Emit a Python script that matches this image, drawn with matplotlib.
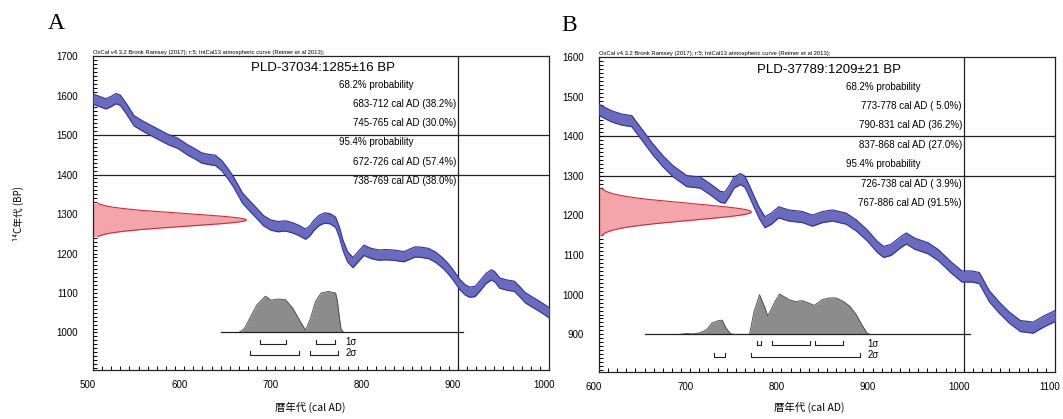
import numpy as np
import matplotlib
matplotlib.use('Agg')
import matplotlib.pyplot as plt
import matplotlib.transforms as mtransforms
from matplotlib.ticker import MultipleLocator

plt.rcParams['font.family'] = ['Liberation Sans', 'Noto Sans CJK JP', 'DejaVu Sans']

# ---------------- data ----------------
subtitle = "OxCal v4.3.2 Bronk Ramsey (2017); r:5; IntCal13 atmospheric curve (Reimer et al 2013);"

# Panel A: IntCal13 curve (centre, BP)
a_cal_years = [500, 507, 514, 520, 525, 530, 537, 545, 555, 564, 573, 582, 593, 604, 612, 619, 627, 634,
               641, 647, 653, 658, 664, 672, 679, 687, 695, 703, 711, 719, 726, 733, 738, 742, 748,
               754, 760, 766, 770, 774, 779, 785, 790, 797, 805, 813, 821, 829, 835, 841, 847, 853,
               860, 868, 876, 884, 890, 896, 902, 908, 913, 919, 925, 931, 937, 941, 946, 954, 962,
               968, 974, 981, 989, 995, 1000]
a_cal_bp = [1591, 1585, 1579, 1585, 1592, 1588, 1565, 1536, 1522, 1511, 1500, 1489, 1479, 1462, 1452,
            1442, 1438, 1436, 1423, 1405, 1385, 1365, 1340, 1320, 1303, 1283, 1272, 1268, 1270, 1265,
            1258, 1249, 1258, 1271, 1284, 1290, 1288, 1279, 1255, 1221, 1192, 1177, 1190, 1208, 1200,
            1196, 1197, 1196, 1194, 1192, 1198, 1204, 1203, 1200, 1190, 1175, 1160, 1142, 1122, 1108,
            1102, 1104, 1120, 1137, 1146, 1140, 1125, 1120, 1117, 1103, 1088, 1078, 1067, 1058, 1050]
a_cal_err = 13

a_date = (1285, 16)
a_name = "PLD-37034:1285±16 BP"
a_prob_years = [660, 666, 672, 680, 689, 695, 703, 711, 719, 727, 733, 738, 744, 750, 758, 766, 768, 770, 772, 775]
a_prob = [0, 10, 37, 71, 92, 82, 85, 83, 62, 29, 6, 33, 79, 100, 104, 100, 80, 40, 8, 0]
a_1sigma = [(683, 712), (745, 765)]
a_2sigma = [(672, 726), (738, 769)]
a_lines = ["68.2% probability", "683-712 cal AD (38.2%)", "745-765 cal AD (30.0%)",
           "95.4% probability", "672-726 cal AD (57.4%)", "738-769 cal AD (38.0%)"]
a_xticks = [500, 600, 700, 800, 900, 1000]
a_yticks = [1000, 1100, 1200, 1300, 1400, 1500, 1600, 1700]

# Panel B
b_cal_years = [600, 607, 614, 625, 636, 647, 659, 670, 681, 696, 711, 722, 733, 738, 743, 748, 755, 760,
               764, 770, 776, 782, 789, 797, 808, 823, 834, 845, 856, 871, 882, 894, 905, 912, 920, 931,
               937, 946, 961, 972, 987, 998, 1009, 1017, 1028, 1039, 1050, 1062, 1076, 1088, 1100]
b_cal_bp = [1467, 1458, 1450, 1442, 1438, 1404, 1367, 1337, 1312, 1287, 1283, 1266, 1247, 1245, 1262,
            1283, 1292, 1285, 1266, 1235, 1205, 1183, 1192, 1208, 1200, 1196, 1187, 1196, 1200, 1192,
            1175, 1150, 1121, 1108, 1113, 1133, 1142, 1129, 1117, 1100, 1067, 1046, 1046, 1042, 996,
            967, 942, 921, 917, 933, 946]
b_cal_err = 14

b_date = (1209, 21)
b_name = "PLD-37789:1209±21 BP"
b_prob_years = [688, 696, 703, 711, 718, 724, 730, 735, 739, 744, 748, 765, 770, 776, 782, 785, 793, 798,
                808, 815, 823, 830, 836, 845, 853, 860, 868, 875, 882, 888, 894, 897]
b_prob = [0, 2, 1, 4, 12, 29, 34, 36, 17, 2, 0, 0, 58, 100, 67, 46, 83, 102, 88, 83, 85, 79, 73, 88, 92,
          92, 83, 71, 50, 25, 3, 0]
b_1sigma = [(773, 778), (790, 831), (837, 868)]
b_2sigma = [(726, 738), (767, 886)]
b_lines = ["68.2% probability", "773-778 cal AD ( 5.0%)", "790-831 cal AD (36.2%)",
           "837-868 cal AD (27.0%)", "95.4% probability", "726-738 cal AD ( 3.9%)",
           "767-886 cal AD (91.5%)"]
b_xticks = [600, 700, 800, 900, 1000, 1100]
b_yticks = [900, 1000, 1100, 1200, 1300, 1400, 1500, 1600]

# ---------------- figure ----------------
fig = plt.figure(figsize=(10.63, 4.19), dpi=100)

BLUE_FILL = '#6a6abf'
BLUE_EDGE = '#30309a'
RED_FILL = '#f4a4ab'
RED_EDGE = '#d42a30'
GREY_FILL = '#8c8c8c'


def panel(rect, xlim, ylim, xticks, yticks, cal_years, cal_bp, cal_err, date, name, lines,
          line_ys, title_y, text_left, prob_years, prob, base_y, base_x, s1, s2, hlines,
          red_len, red_cut):
    ax = fig.add_axes(rect)
    ax.set_xlim(*xlim)
    ax.set_ylim(*ylim)
    for sp in ax.spines.values():
        sp.set_linewidth(0.9)
        sp.set_color('#222222')
    ax.set_xticks(xticks)
    ax.set_yticks(yticks)
    ax.xaxis.set_minor_locator(MultipleLocator(10))
    ax.yaxis.set_minor_locator(MultipleLocator(10))
    ax.tick_params(which='both', direction='in', length=3, width=0.7, top=False, right=False,
                   labelsize=7)
    ax.tick_params(axis='x', which='major', pad=7)
    ax.tick_params(axis='y', which='major', pad=11)
    off = mtransforms.ScaledTranslation(-5 / 100, 0, fig.dpi_scale_trans)
    for lab in ax.get_xticklabels():
        lab.set_transform(lab.get_transform() + off)

    # calibration curve band
    yrs = np.array(cal_years, float)
    bp = np.array(cal_bp, float)
    ax.fill_between(yrs, bp - cal_err, bp + cal_err, color=BLUE_FILL, lw=0, zorder=3)
    ax.plot(yrs, bp - cal_err, color=BLUE_EDGE, lw=0.8, zorder=4)
    ax.plot(yrs, bp + cal_err, color=BLUE_EDGE, lw=0.8, zorder=4)

    # radiocarbon date distribution (on y axis)
    mu, sd = date
    yy = np.linspace(mu - red_cut * sd, mu + red_cut * sd, 200)
    xx = xlim[0] + red_len * np.exp(-0.5 * ((yy - mu) / sd) ** 2)
    ax.fill_betweenx(yy, xlim[0], xx, color=RED_FILL, lw=0, zorder=2)
    ax.plot(xx, yy, color=RED_EDGE, lw=0.8, zorder=2.5)

    # calibrated distribution
    py = np.array(prob_years, float)
    ph = base_y + np.array(prob, float)
    ax.fill_between(py, base_y, ph, color=GREY_FILL, lw=0, zorder=3)
    ax.plot(py, ph, color='#444444', lw=0.6, zorder=3.5)
    ax.plot(base_x, [base_y, base_y], color='#222222', lw=0.9, zorder=3.6)

    # sigma brackets
    lab_x = max(r[1] for r in list(s1) + list(s2)) + 8

    def brackets(ranges, yb, lab):
        for a, b in ranges:
            ax.plot([a, a, b, b], [yb + 10, yb, yb, yb + 10], color='#222222', lw=0.8, zorder=4)
        ax.text(lab_x, yb + 3, lab, fontsize=7, va='center', ha='left', zorder=5)

    brackets(s1, base_y - 28, "1σ")
    brackets(s2, base_y - 56, "2σ")

    # box lines
    xv = xlim[0] + 0.8 * (xlim[1] - xlim[0])
    ax.axvline(xv, color='#222222', lw=0.9, zorder=1)
    for h in hlines:
        ax.axhline(h, color='#222222', lw=0.9, zorder=1)

    # texts
    ax.text(0.0, 1.004, subtitle, transform=ax.transAxes, fontsize=4.2, ha='left', va='bottom')
    ax.text(0.505, title_y, name, transform=ax.transAxes, fontsize=9.5, ha='center', va='center',
            family=['Liberation Sans', 'Noto Sans CJK JP'], zorder=6)
    for t, y in zip(lines, line_ys):
        if 'probability' in t:
            ax.text(text_left, y, t, transform=ax.transAxes, fontsize=7, ha='left', va='center',
                    zorder=6)
        else:
            ax.text(0.796, y, t, transform=ax.transAxes, fontsize=7, ha='right', va='center',
                    zorder=6)
    return ax


axA = panel([0.0875, 0.1169, 0.4290, 0.7494], (500, 1000), (905, 1693), a_xticks, a_yticks,
            a_cal_years, a_cal_bp, a_cal_err, a_date, a_name, a_lines,
            [0.909, 0.847, 0.788, 0.726, 0.664, 0.603], 0.963, 0.539,
            a_prob_years, a_prob, 1000, [640, 906], a_1sigma, a_2sigma, [1500, 1400], 168, 2.6)

axB = panel([0.5635, 0.1122, 0.4290, 0.7518], (600, 1100), (805, 1592), b_xticks, b_yticks,
            b_cal_years, b_cal_bp, b_cal_err, b_date, b_name, b_lines,
            [0.906, 0.844, 0.783, 0.722, 0.659, 0.598, 0.536], 0.960, 0.542,
            b_prob_years, b_prob, 900, [650, 1007], b_1sigma, b_2sigma, [1400, 1300], 167, 2.85)

# axis labels
fig.text(0.017, 0.49, "¹⁴C年代 (BP)", rotation=90, ha='center', va='center', fontsize=7,
         family=['Noto Sans CJK JP', 'DejaVu Sans'])
fig.text(0.2916, 0.028, "暦年代 (cal AD)", ha='center', va='center', fontsize=7.5,
         family=['Noto Sans CJK JP', 'DejaVu Sans'])
fig.text(0.761, 0.028, "暦年代 (cal AD)", ha='center', va='center', fontsize=7.5,
         family=['Noto Sans CJK JP', 'DejaVu Sans'])

# panel letters
fig.text(0.0527, 0.943, "A", ha='center', va='center', fontsize=17, family='Liberation Serif')
fig.text(0.5353, 0.940, "B", ha='center', va='center', fontsize=17, family='Liberation Serif')

fig.savefig('out.png', dpi=100)
